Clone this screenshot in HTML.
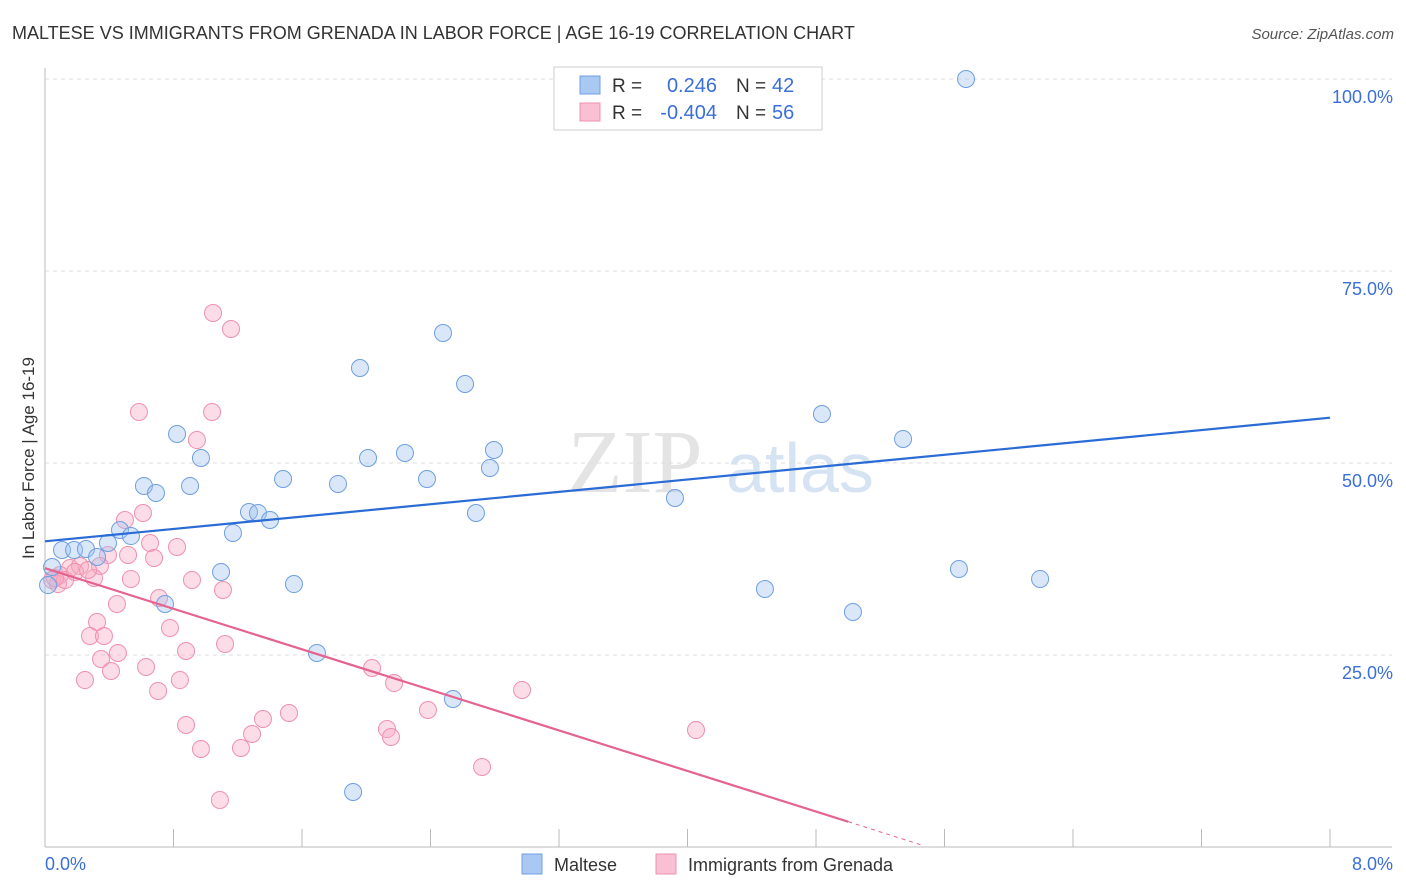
<!DOCTYPE html>
<html><head><meta charset="utf-8"><style>
body{margin:0;background:#fff;font-family:"Liberation Sans",sans-serif;}
#c{position:absolute;left:0;top:0}
</style></head><body>
<svg id="c" width="1406" height="892"></svg>
<script>
const blueX=[], blueY=[], pinkX=[], pinkY=[];
const bluePx=[[966,79],[443,333],[360,368],[465,384],[822,414],[177,434],[903,439],[494,450],[201,458],[405,453],[368,458],[490,468],[144,486],[283,479],[338,484],[190,486],[156,493],[427,479],[675,498],[249,512],[258,513],[476,513],[270,520],[120,530],[233,533],[131,536],[108,543],[62,550],[74,550],[86,549],[97,557],[52,567],[48,585],[221,572],[294,584],[959,569],[1040,579],[765,589],[165,604],[853,612],[317,653],[453,699],[353,792]];
const pinkPx=[[213,313],[231,329],[139,412],[212,412],[197,440],[143,513],[125,520],[150,543],[177,547],[108,555],[154,558],[128,555],[70,568],[80,566],[100,566],[60,575],[52,580],[58,584],[94,578],[131,579],[192,580],[223,590],[117,604],[159,598],[97,622],[170,628],[90,636],[104,636],[225,644],[118,653],[186,651],[101,659],[146,667],[111,671],[372,668],[85,680],[180,680],[394,683],[158,691],[522,690],[263,719],[289,713],[186,725],[428,710],[387,729],[391,737],[252,734],[696,730],[201,749],[241,748],[482,767],[220,800],[65,580],[75,572],[88,570],[55,578]];
// values (percent units)
bluePx.forEach(p=>{blueX.push(+((p[0]-45)/1285*8).toFixed(3));blueY.push(+((847-p[1])/768*100).toFixed(2));});
pinkPx.forEach(p=>{pinkX.push(+((p[0]-45)/1285*8).toFixed(3));pinkY.push(+((847-p[1])/768*100).toFixed(2));});
const blueLine=[[0,39.8],[8,55.9]];
const pinkLine=[[0,36.3],[5.0,3.3]];
const pinkDash=[[5.0,3.3],[5.45,0.3]];
const yTicks=[25,50,75,100];
const yTickLabels=["25.0%","50.0%","75.0%","100.0%"];
const xTicks=[0.8,1.6,2.4,3.2,4.0,4.8,5.6,6.4,7.2,8.0];

const X=v=>45+v/8*1285, Y=v=>847-v/100*768;
const svg=document.getElementById('c'), NS="http://www.w3.org/2000/svg";
function mk(t,a,txt){const e=document.createElementNS(NS,t);for(const k in a)e.setAttribute(k,a[k]);if(txt!==undefined)e.textContent=txt;svg.appendChild(e);return e;}

let e=mk('text',{x:12,y:39,'font-size':18,fill:'#333'},'MALTESE VS IMMIGRANTS FROM GRENADA IN LABOR FORCE | AGE 16-19 CORRELATION CHART');


e=mk('text',{x:1394,y:39,'font-size':15,fill:'#555','text-anchor':'end','font-style':'italic'},'Source: ZipAtlas.com');


e=mk('text',{x:635,y:492,'font-size':90,fill:'#e4e4e4','text-anchor':'middle','font-family':'Liberation Serif'},'ZIP');


e=mk('text',{x:800,y:492,'font-size':70,fill:'#d6e3f3','text-anchor':'middle'},'atlas');



yTicks.forEach((t,i)=>{
 let g=mk('line',{x1:45,x2:1392,y1:Y(t),y2:Y(t),stroke:'#ddd','stroke-dasharray':'4,4'});
 
 
 let l=mk('text',{x:1393,y:Y(t)+24,'font-size':18,fill:'#3a6fd8','text-anchor':'end'},yTickLabels[i]);
 
 
});
e=mk('line',{x1:45,x2:45,y1:68,y2:847,stroke:'#bbb'});


e=mk('line',{x1:45,x2:1392,y1:847,y2:847,stroke:'#bbb'});


xTicks.forEach(t=>{let g=mk('line',{x1:X(t),x2:X(t),y1:829,y2:847,stroke:'#bbb'});
 
 });
e=mk('text',{x:45,y:870,'font-size':18,fill:'#3a6fd8'},'0.0%');


e=mk('text',{x:1393,y:870,'font-size':18,fill:'#3a6fd8','text-anchor':'end'},'8.0%');


e=mk('text',{x:34,y:458,'font-size':17,fill:'#333','text-anchor':'middle',transform:'rotate(-90 34 458)'},'In Labor Force | Age 16-19');



pinkX.forEach((x,i)=>{let c=mk('circle',{cx:X(x),cy:Y(pinkY[i]),r:8.5,fill:'rgba(247,170,195,0.4)',stroke:'#ef90ae','stroke-width':1});
 
 });
blueX.forEach((x,i)=>{let c=mk('circle',{cx:X(x),cy:Y(blueY[i]),r:8.5,fill:'rgba(160,195,240,0.4)',stroke:'#6f9fe0','stroke-width':1});
 
 });

e=mk('line',{x1:X(blueLine[0][0]),y1:Y(blueLine[0][1]),x2:X(blueLine[1][0]),y2:Y(blueLine[1][1]),stroke:'#2a6bd6','stroke-width':2.2});


e=mk('line',{x1:X(pinkLine[0][0]),y1:Y(pinkLine[0][1]),x2:X(pinkLine[1][0]),y2:Y(pinkLine[1][1]),stroke:'#e4638f','stroke-width':2.2});


e=mk('line',{x1:X(pinkDash[0][0]),y1:Y(pinkDash[0][1]),x2:X(pinkDash[1][0]),y2:Y(pinkDash[1][1]),stroke:'#e4638f','stroke-width':1,'stroke-dasharray':'4,4'});



// legend box
e=mk('rect',{x:554,y:67,width:268,height:63,fill:'#fff',stroke:'#ccc'});


[[0,'#a9c8f2','#6f9fe0',' 0.246','42'],[1,'#f8c0d2','#ef90ae','-0.404','56']].forEach(r=>{
 const y=76+r[0]*27;
 let s=mk('rect',{x:580,y:y,width:20,height:18,fill:r[1],stroke:r[2]});
 
 
 let t=mk('text',{x:612,y:y+16,'font-size':19,fill:'#333'},'R = ');
 
 
 t=mk('text',{x:717,y:y+16,'font-size':20,fill:'#3a6fd8','text-anchor':'end'},r[3]);
 
 
 t=mk('text',{x:736,y:y+16,'font-size':19,fill:'#333'},'N = ');
 
 
 t=mk('text',{x:772,y:y+16,'font-size':20,fill:'#3a6fd8'},r[4]);
 
 
});
// bottom legend
[[522,'#a9c8f2','#6f9fe0','Maltese','legend-maltese'],[656,'#f8c0d2','#ef90ae','Immigrants from Grenada','legend-grenada']].forEach(r=>{
 let s=mk('rect',{x:r[0],y:854,width:20,height:20,fill:r[1],stroke:r[2]});
 
 
 let t=mk('text',{x:r[0]+32,y:871,'font-size':18,fill:'#333'},r[3]);
 
 
});
</script>
</body></html>
